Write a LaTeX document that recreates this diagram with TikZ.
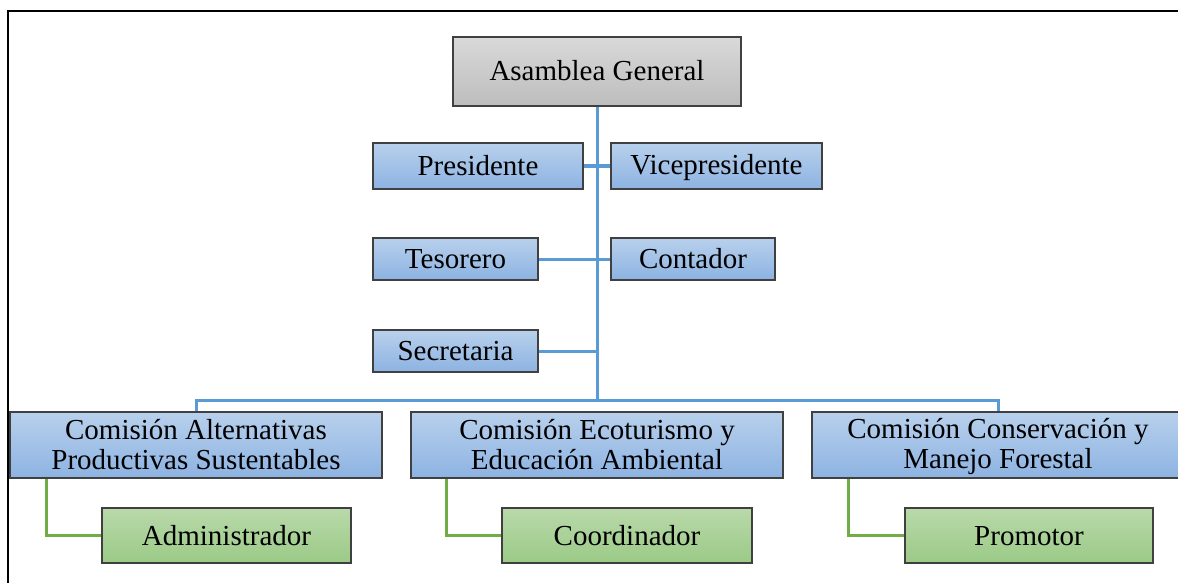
\documentclass[tikz,border=0pt]{standalone}
\usepackage{fontspec}
\setmainfont{Liberation Serif}
\definecolor{bluetop}{HTML}{B8D0EC}
\definecolor{bluebot}{HTML}{8DB3E2}
\definecolor{graytop}{HTML}{D9D9D9}
\definecolor{graybot}{HTML}{BDBDBD}
\definecolor{greentop}{HTML}{B9D9AA}
\definecolor{greenbot}{HTML}{9BCA87}
\definecolor{boxline}{HTML}{404040}
\definecolor{blueline}{HTML}{5B9BD5}
\definecolor{greenline}{HTML}{70AD47}
\newcommand{\ls}{\rule[-4pt]{0pt}{27pt}}
\tikzset{
  basebox/.style={rectangle, draw=boxline, line width=1.2pt, inner sep=0pt, align=center,
    font=\fontsize{29}{30}\selectfont},
  graybox/.style={basebox, top color=graytop, bottom color=graybot},
  bluebox/.style={basebox, top color=bluetop, bottom color=bluebot},
  greenbox/.style={basebox, top color=greentop, bottom color=greenbot},
  bline/.style={draw=blueline, line width=3pt},
  gline/.style={draw=greenline, line width=3pt},
}
\begin{document}
\begin{tikzpicture}[x=1pt,y=-1pt]
\useasboundingbox (0,0) rectangle (1178,583);
\draw[line width=2.5pt] (8,583) -- (8,11) -- (1178,11);

\node[graybox, minimum width=288pt, minimum height=69pt] (a) at (597,71.5) {\ls Asamblea General};
\node[bluebox, minimum width=210pt, minimum height=46pt] (pres) at (478,166) {\ls Presidente};
\node[bluebox, minimum width=211pt, minimum height=46pt] (vice) at (716.5,166) {\ls Vicepresidente};
\node[bluebox, minimum width=165pt, minimum height=42pt] (tes) at (455.5,259) {\ls Tesorero};
\node[bluebox, minimum width=164pt, minimum height=42pt] (cont) at (693,259) {\ls Contador};
\node[bluebox, minimum width=165pt, minimum height=42pt] (sec) at (455.5,351) {\ls Secretaria};

\node[bluebox, minimum width=372pt, minimum height=66pt] (c1) at (196,445) {\ls Comisión Alternativas\\\ls Productivas Sustentables};
\node[bluebox, minimum width=372pt, minimum height=66pt] (c2) at (597,445) {\ls Comisión Ecoturismo y\\\ls Educación Ambiental};
\node[bluebox, minimum width=372pt, minimum height=66pt] (c3) at (998,445) {\ls Comisión Conservación y\\\ls Manejo Forestal};

\node[greenbox, minimum width=249pt, minimum height=55pt] (g1) at (226.5,535.5) {\ls Administrador};
\node[greenbox, minimum width=250pt, minimum height=55pt] (g2) at (627,535.5) {\ls Coordinador};
\node[greenbox, minimum width=248pt, minimum height=55pt] (g3) at (1029,535.5) {\ls Promotor};

\coordinate (bus) at (597,400);
\path[bline] (a.south) -- (bus);
\path[bline] (c1.north) |- (bus) -| (c3.north);
\path[bline] (pres.east) -- (vice.west);
\path[bline] (tes.east) -- (cont.west);
\path[bline] (sec.east) -- (sec.east -| bus);
\path[gline] ([xshift=37pt]c1.south west) |- (g1.west);
\path[gline] ([xshift=36pt]c2.south west) |- (g2.west);
\path[gline] ([xshift=37pt]c3.south west) |- (g3.west);
\end{tikzpicture}
\end{document}
